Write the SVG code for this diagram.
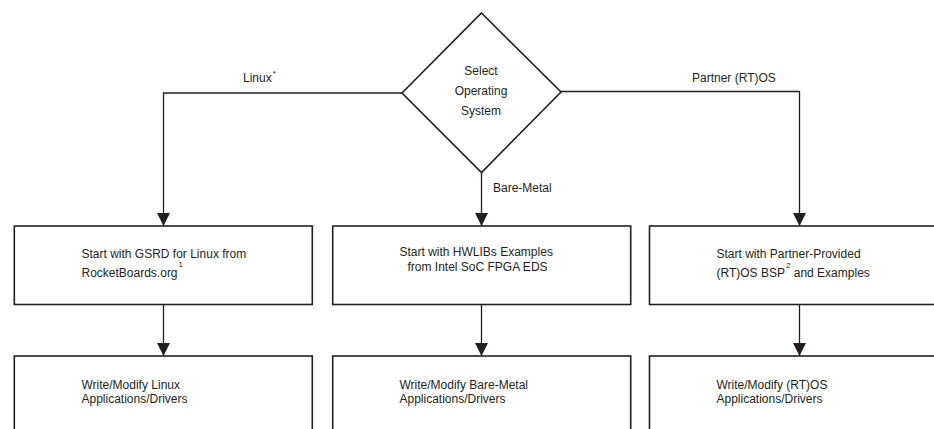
<svg xmlns="http://www.w3.org/2000/svg" width="934" height="429" viewBox="0 0 934 429">
<style>
  .box { fill: #ffffff; stroke: #231f20; stroke-width: 1.6; }
  .line { fill: none; stroke: #231f20; stroke-width: 1.3; }
  text { font-family: "Liberation Sans", Arial, sans-serif; font-size: 12px; fill: #231f20; }
  .sup { font-size: 8px; }
  .mid { text-anchor: middle; }
</style>
<defs>
  <marker id="arrow" markerWidth="14" markerHeight="13" refX="14" refY="7" orient="auto" markerUnits="userSpaceOnUse" viewBox="0 0 14 14">
    <path d="M0,0 L14,7 L0,14 Z" fill="#231f20"/>
  </marker>
</defs>
<rect width="934" height="429" fill="#ffffff"/>

<g id="connectors">
  <path class="line" d="M402,93 H163.5 V226" marker-end="url(#arrow)"/>
  <path class="line" d="M481.5,172.5 V226" marker-end="url(#arrow)"/>
  <path class="line" d="M561,91.5 H799.5 V226" marker-end="url(#arrow)"/>
  <path class="line" d="M163.5,304.5 V356" marker-end="url(#arrow)"/>
  <path class="line" d="M481.5,304.5 V356" marker-end="url(#arrow)"/>
  <path class="line" d="M799.5,304.5 V356" marker-end="url(#arrow)"/>
  <text x="243" y="81.5">Linux<tspan class="sup" dx="1" dy="-6">*</tspan></text>
  <text x="692" y="81.5">Partner (RT)OS</text>
  <text x="493" y="191.5">Bare-Metal</text>
</g>

<g id="decision">
  <polygon class="box" points="481.5,13 561,92 481.5,172.5 402,93"/>
  <text class="mid" x="481" y="74.5">Select</text>
  <text class="mid" x="481" y="94.5">Operating</text>
  <text class="mid" x="481" y="115">System</text>
</g>

<g id="gsrd">
  <rect class="box" x="14.3" y="226" width="298" height="78.5"/>
  <text x="81.5" y="258">Start with GSRD for Linux from</text>
  <text x="81.5" y="277">RocketBoards.org<tspan class="sup" dx="1" dy="-10">1</tspan></text>
</g>

<g id="hwlibs">
  <rect class="box" x="332.7" y="226" width="298" height="78.5"/>
  <text x="399.5" y="256">Start with HWLIBs Examples</text>
  <text x="407.5" y="271">from Intel SoC FPGA EDS</text>
</g>

<g id="partner">
  <rect class="box" x="649.5" y="226" width="298" height="78.5"/>
  <text x="716.5" y="258">Start with Partner-Provided</text>
  <text x="716.5" y="277">(RT)OS BSP<tspan class="sup" dx="1" dy="-9">2</tspan><tspan dy="9"> and Examples</tspan></text>
</g>

<g id="linux-apps">
  <rect class="box" x="14.3" y="356" width="298" height="90"/>
  <text x="81.5" y="388.5">Write/Modify Linux</text>
  <text x="81.5" y="403">Applications/Drivers</text>
</g>

<g id="baremetal-apps">
  <rect class="box" x="332.7" y="356" width="298" height="90"/>
  <text x="399.5" y="388.5">Write/Modify Bare-Metal</text>
  <text x="399.5" y="403">Applications/Drivers</text>
</g>

<g id="rtos-apps">
  <rect class="box" x="649.5" y="356" width="298" height="90"/>
  <text x="716.5" y="388.5">Write/Modify (RT)OS</text>
  <text x="716.5" y="403">Applications/Drivers</text>
</g>
</svg>
